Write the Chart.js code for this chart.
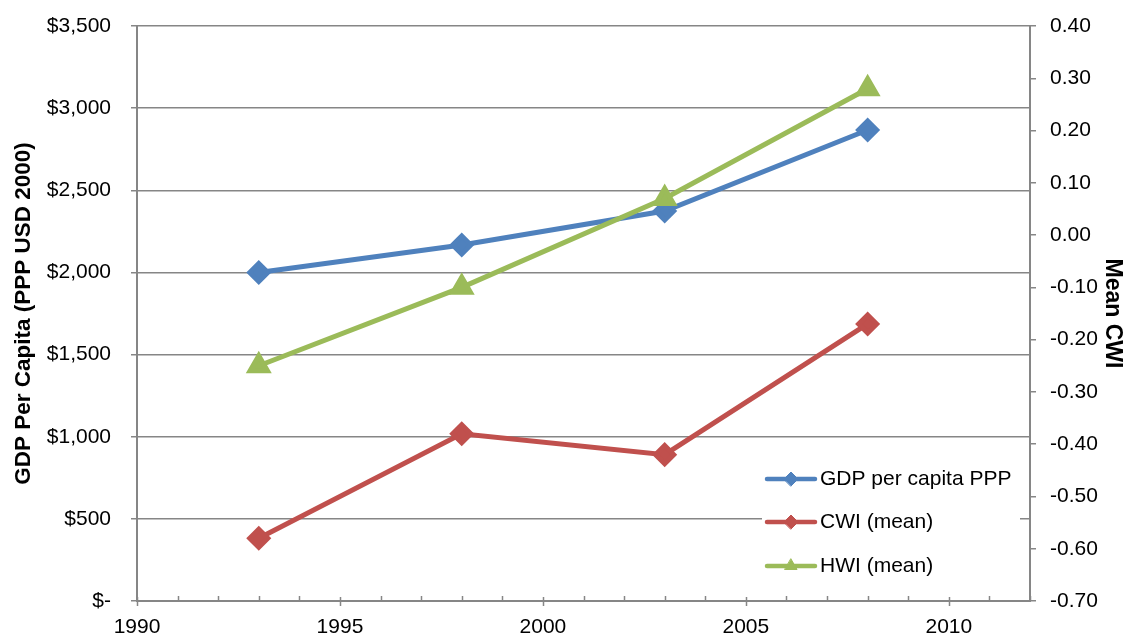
<!DOCTYPE html>
<html>
<head>
<meta charset="utf-8">
<script src="https://cdn.jsdelivr.net/npm/chart.js@4/dist/chart.umd.min.js"></script>
<style>
  html, body { margin: 0; padding: 0; background: #fff; }
  canvas { display: block; }
</style>
</head>
<body>
<canvas id="c" width="1126" height="637"></canvas>
<script>
// Survey years
const years = [1993, 1998, 2003, 2008];
// GDP per capita, PPP (USD 2000) — left axis
const gdpPerCapita = [2000, 2167, 2374, 2867];
// Mean wealth indices — right axis
const cwiMean = [-0.58, -0.38, -0.42, -0.17];
const hwiMean = [-0.25, -0.10, 0.07, 0.28];

const seriesLabels = ['GDP per capita PPP', 'CWI (mean)', 'HWI (mean)'];
const leftTitle = 'GDP Per Capita (PPP USD 2000)';
const rightTitle = 'Mean CWI';

const BLUE = '#4F81BD', RED = '#C0504D', GREEN = '#9BBB59';
const AXIS = '#868686';
const FONT = '"Liberation Sans", Arial, sans-serif';

const toXY = (ys) => years.map((x, i) => ({ x, y: ys[i] }));

// Year tick marks: major ticks cross the axis, minor ticks sit inside
const yearTicks = {
  id: 'yearTicks',
  afterDraw(chart) {
    const { ctx } = chart;
    const xs = chart.scales.x;
    const y0 = xs.top;
    ctx.save();
    ctx.strokeStyle = AXIS;
    ctx.lineWidth = 1.5;
    xs.ticks.forEach((t) => {
      const px = Math.round(xs.getPixelForValue(t.value)) + 0.5;
      const major = t.value % 5 === 0;
      ctx.beginPath();
      ctx.moveTo(px, major ? y0 - 4 : y0 - 5);
      ctx.lineTo(px, major ? y0 + 5 : y0);
      ctx.stroke();
    });
    ctx.restore();
  }
};

// Legend drawn inside the plot area, lower right
const innerLegend = {
  id: 'innerLegend',
  afterDatasetsDraw(chart) {
    const { ctx, chartArea } = chart;
    const boxL = chartArea.right - 268, boxR = chartArea.right - 10;
    const boxT = chartArea.bottom - 146, boxB = chartArea.bottom - 12;
    ctx.save();
    ctx.fillStyle = '#fff';
    ctx.fillRect(boxL, boxT, boxR - boxL, boxB - boxT);
    const rows = [chartArea.bottom - 122, chartArea.bottom - 79, chartArea.bottom - 35];
    const x0 = chartArea.right - 263, x1 = chartArea.right - 215;
    chart.data.datasets.forEach((ds, i) => {
      const y = rows[i];
      ctx.strokeStyle = ds.borderColor;
      ctx.lineWidth = 4.5;
      ctx.lineCap = 'round';
      ctx.beginPath(); ctx.moveTo(x0, y); ctx.lineTo(x1, y); ctx.stroke();
      ctx.fillStyle = ds.borderColor;
      ctx.strokeStyle = ds.borderColor;
      ctx.lineWidth = 1;
      Chart.helpers.drawPoint(ctx, { pointStyle: ds.pointStyle, radius: 7, rotation: 0, borderWidth: 1 }, (x0 + x1) / 2, y);
      ctx.fillStyle = '#000';
      ctx.font = '21px ' + FONT;
      ctx.textBaseline = 'middle';
      ctx.textAlign = 'left';
      ctx.fillText(ds.label, x1 + 5, y);
    });
    ctx.restore();
  }
};

// Keep vertical axes from pushing the plot area inward
const fitVertical = (w) => (s) => { s.width = w; s.paddingTop = 0; s.paddingBottom = 0; };

new Chart(document.getElementById('c'), {
  type: 'line',
  data: {
    datasets: [
      { label: seriesLabels[0], data: toXY(gdpPerCapita), yAxisID: 'yL',
        borderColor: BLUE, backgroundColor: BLUE, pointStyle: 'rectRot',
        pointRadius: 9, pointHoverRadius: 9, borderWidth: 5, order: 3 },
      { label: seriesLabels[1], data: toXY(cwiMean), yAxisID: 'yR',
        borderColor: RED, backgroundColor: RED, pointStyle: 'rectRot',
        pointRadius: 9, pointHoverRadius: 9, borderWidth: 5, order: 2 },
      { label: seriesLabels[2], data: toXY(hwiMean), yAxisID: 'yR',
        borderColor: GREEN, backgroundColor: GREEN, pointStyle: 'triangle',
        pointRadius: 10, pointHoverRadius: 10, borderWidth: 5, order: 1 }
    ]
  },
  options: {
    responsive: false,
    animation: false,
    devicePixelRatio: 1,
    layout: { padding: { top: 26, left: 10, right: 0, bottom: 0 } },
    plugins: { legend: { display: false }, tooltip: { enabled: false } },
    scales: {
      x: {
        type: 'linear', min: 1990, max: 2012,
        ticks: {
          stepSize: 1, autoSkip: false, maxRotation: 0, padding: 14,
          color: '#000', font: { family: FONT, size: 21 },
          callback: (v) => (v % 5 === 0 ? String(v) : '')
        },
        grid: { drawOnChartArea: false, drawTicks: false },
        border: { color: AXIS, width: 2 },
        afterFit: (s) => { s.height = 36; s.paddingLeft = 0; s.paddingRight = 0; }
      },
      yL: {
        type: 'linear', position: 'left', min: 0, max: 3500,
        ticks: {
          stepSize: 500, padding: 20, color: '#000', font: { family: FONT, size: 21 },
          callback: (v) => (v === 0 ? '$-' : '$' + v.toLocaleString('en-US'))
        },
        grid: { color: AXIS, lineWidth: 1.5, tickLength: 6, tickColor: AXIS },
        border: { color: AXIS, width: 2 },
        title: { display: true, text: leftTitle, color: '#000',
                 font: { family: FONT, size: 22.5, weight: 'bold' }, padding: 0 },
        afterFit: fitVertical(127)
      },
      yR: {
        type: 'linear', position: 'right', min: -0.7, max: 0.4,
        ticks: {
          stepSize: 0.1, padding: 14, color: '#000', font: { family: FONT, size: 21 },
          callback: (v) => (Math.abs(v) < 1e-9 ? '0.00' : v.toFixed(2))
        },
        grid: { drawOnChartArea: false, tickLength: 6, tickColor: AXIS, lineWidth: 1.5 },
        border: { color: AXIS, width: 2 },
        title: { display: true, text: rightTitle, color: '#000',
                 font: { family: FONT, size: 23, weight: 'bold' }, padding: 0 },
        afterFit: fitVertical(96)
      }
    }
  },
  plugins: [innerLegend, yearTicks]
});
</script>
</body>
</html>
